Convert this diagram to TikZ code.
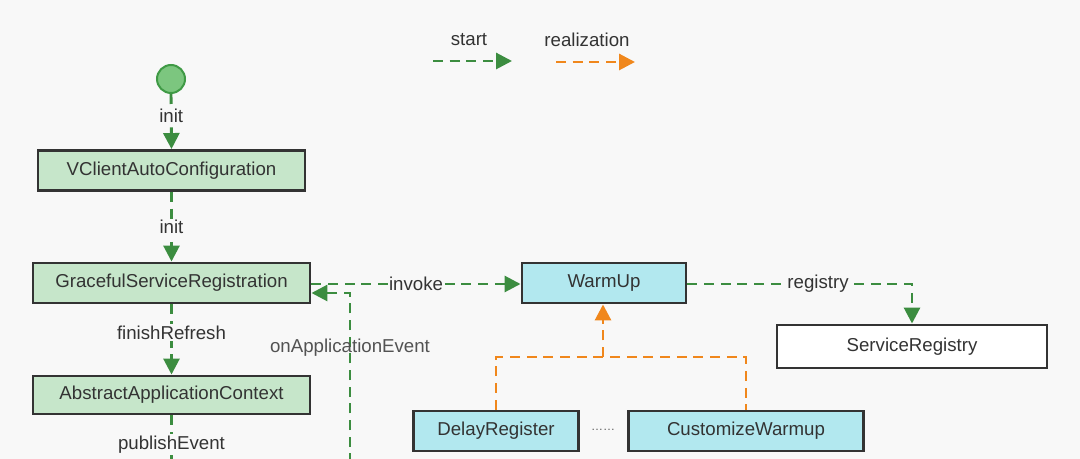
\documentclass[tikz,border=0pt]{standalone}
\usepackage{fontspec}
\setmainfont{Liberation Sans}
\usetikzlibrary{arrows.meta}
\definecolor{bg}{HTML}{F8F8F8}
\definecolor{txt}{HTML}{333333}
\definecolor{gfill}{HTML}{C6E6CA}
\definecolor{cfill}{HTML}{B2E8EF}
\definecolor{gline}{HTML}{3C8D40}
\definecolor{oline}{HTML}{F0871C}
\definecolor{cfillc}{HTML}{7CC67F}
\definecolor{cdraw}{HTML}{3F9A45}
\definecolor{bdr}{HTML}{333333}
\tikzset{
  box/.style={draw=bdr, line width=2.2pt, text=txt, font=\fontsize{14}{16}\selectfont, inner sep=0pt, align=center},
  gbox/.style={box, fill=gfill},
  cbox/.style={box, fill=cfill},
  wbox/.style={box, fill=white},
  gflow/.style={draw=gline, line width=2.2pt, dash pattern=on 7.5pt off 5pt, -{Triangle[length=12pt,width=12pt]}},
  gplain/.style={draw=gline, line width=2.2pt, dash pattern=on 7.5pt off 5pt},
  oflow/.style={draw=oline, line width=2.2pt, dash pattern=on 7.5pt off 5pt, -{Triangle[length=12pt,width=12pt]}},
  oplain/.style={draw=oline, line width=2.2pt, dash pattern=on 7.5pt off 5pt},
  lbl/.style={fill=bg, text=txt, inner sep=1pt, font=\fontsize{14}{16}\selectfont},
  lbln/.style={text=txt!85, inner sep=1pt, font=\fontsize{14}{16}\selectfont},
}
\begin{document}
\begin{tikzpicture}[x=0.75pt, y=-0.75pt]
\useasboundingbox (0,0) rectangle (1080,459);
\fill[bg] (0,0) rectangle (1080,459);
\clip (0,0) rectangle (1080,459);

% legend
\node[lbl] (lstart) at (469,40) {start};
\node[lbl] (lreal) at (587,40) {realization};
\coordinate (ls1) at (433,61);
\coordinate (ls2) at (512,61);
\coordinate (lr1) at (556,62);
\coordinate (lr2) at (635,62);
\draw[gflow] (ls1) -- (ls2);
\draw[oflow] (lr1) -- (lr2);

% nodes
\node[circle, fill=cfillc, draw=cdraw, line width=1.5pt, minimum size=28pt*0.75, inner sep=0pt] (st) at (171,79) {};
\node[gbox, minimum width=267*0.75pt, minimum height=40*0.75pt] (vc) at (171.5,170.5) {VClientAutoConfiguration};
\node[gbox, minimum width=277*0.75pt, minimum height=40*0.75pt] (gs) at (171.5,283) {GracefulServiceRegistration};
\node[gbox, minimum width=277*0.75pt, minimum height=38*0.75pt] (ac) at (171.5,395) {AbstractApplicationContext};
\node[cbox, minimum width=164*0.75pt, minimum height=40*0.75pt] (wu) at (604,283) {WarmUp};
\node[wbox, minimum width=270*0.75pt, minimum height=43*0.75pt] (sr) at (912,346.5) {ServiceRegistry};
\node[cbox, minimum width=165*0.75pt, minimum height=40*0.75pt] (dr) at (496,431) {DelayRegister};
\node[cbox, minimum width=235*0.75pt, minimum height=40*0.75pt] (cw) at (746,431) {CustomizeWarmup};
\node[text=txt!80, font=\fontsize{9}{10}\selectfont] (dots) at (603,430) {\dots\dots};

% green connectors
\draw[gflow] (st.south) -- (vc.north) node[lbl, pos=0.4] {init};
\draw[gflow] (vc.south) -- (gs.north) node[lbl, midway] {init};
\draw[gflow] (gs.south) -- (ac.north) node[lbl, pos=0.4] {finishRefresh};
\coordinate (pe) at (171.5,480);
\draw[gplain] (ac.south) -- (pe) node[lbl, pos=0.45] {publishEvent};
\draw[gflow] (gs.east |- 0,284) -- (wu.west |- 0,284) node[lbl, midway] {invoke};
\coordinate (oa) at (350,480);
\coordinate (ob) at (350,293);
\draw[gflow] (oa) -- (ob) -- (gs.east |- ob);
\node[lbln] (oae) at (350,348) {onApplicationEvent};
\coordinate (rg) at (912,284);
\draw[gflow] (wu.east |- rg) -- (rg) -- (sr.north);
\node[lbl] (rgl) at (818,284) {registry};

% orange connectors
\coordinate (oj) at (603,357);
\draw[oplain] (dr.north) -- (dr.north |- oj) -- (cw.north |- oj) -- (cw.north);
\draw[oflow] (oj) -- (oj |- wu.south);
\end{tikzpicture}
\end{document}
